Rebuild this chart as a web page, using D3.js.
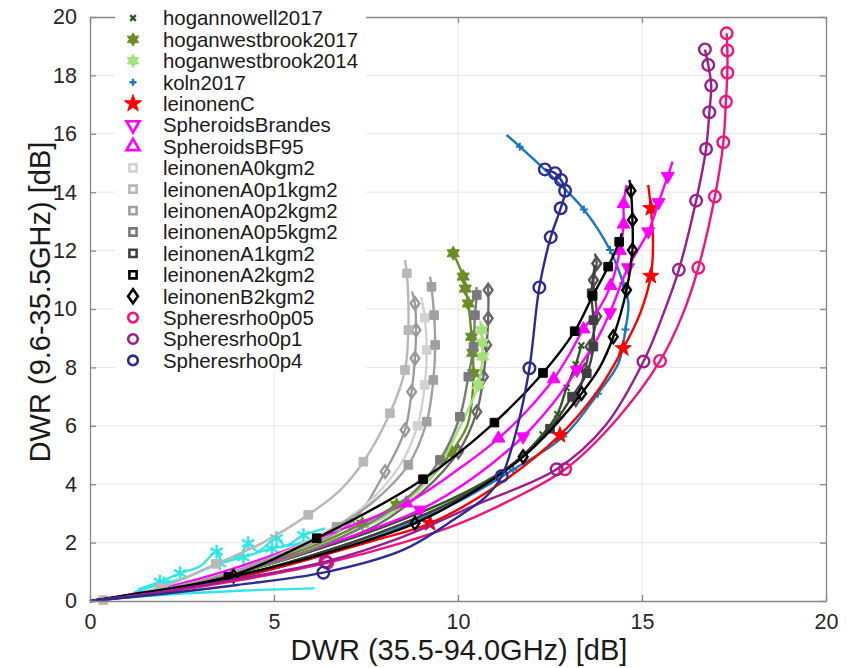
<!DOCTYPE html>
<html>
<head>
<meta charset="utf-8">
<script src="https://cdn.jsdelivr.net/npm/d3@7"></script>
<style>
  body { margin: 0; background: #fff; }
  text { font-family: "Liberation Sans", Arial, Helvetica, sans-serif; }
</style>
</head>
<body>
<svg id="chart" width="851" height="668"></svg>
<script>
// Each point: [DWR 35.5-94.0 GHz (dB), DWR 9.6-35.5 GHz (dB), marker drawn (1) or not (0)]
const hogannowell2017 = [[0,0,0],[2,0.35,0],[4,0.95,0],[6,1.7,0],[8,2.55,0],[10,3.6,0],[11.5,4.7,0],[12.3,5.7,1],[12.7,6.4,1],[12.95,7.3,1],[13.2,8.1,1],[13.35,8.75,1]];
const hoganwestbrook2017 = [[0,0,0],[2,0.4,0],[4,1.0,0],[6,1.85,0],[7.4,2.65,1],[8.33,3.29,1],[9.2,4.15,0],[9.83,5.11,1],[10.24,5.97,0],[10.37,6.77,0],[10.42,7.8,1],[10.4,8.5,1],[10.37,9.05,1],[10.28,10.19,1],[10.2,10.7,1],[10.14,11.11,1],[9.87,11.91,1]];
const hoganwestbrook2014 = [[0,0,0],[2,0.35,0],[4,0.95,0],[6,1.75,0],[7.3,2.45,0],[8.33,3.12,0],[9.42,4.49,0],[10.05,5.97,0],[10.4,6.9,0],[10.55,7.4,1],[10.67,8.37,1],[10.66,8.85,1],[10.64,9.28,1],[10.6,9.6,0]];
const koln2017 = [[0,0,0],[2,0.3,0],[4,0.8,0],[6,1.45,0],[8,2.3,0],[10,3.4,0],[11.5,4.5,1],[12.86,5.63,1],[13.8,7.1,1],[14.36,8.14,0],[14.55,9.3,1],[14.63,10.2,0],[14.49,10.88,1],[14.13,12.02,1],[13.42,13.41,1],[12.5,14.6,0],[11.68,15.56,1],[11.32,15.96,0]];
const leinonenC = [[0,0,0],[2,0.3,0],[4,0.8,0],[6,1.45,0],[7.8,2.1,0],[9.24,2.66,1],[11,3.9,0],[12.77,5.68,1],[13.8,7.2,0],[14.49,8.65,1],[14.95,9.85,0],[15.24,11.13,1],[15.3,12.3,0],[15.24,13.45,1],[15.17,14.25,0]];
const spheroidsBrandes = [[0,0,0],[2,0.4,0],[4,1.0,0],[6.5,1.95,0],[8.97,3.12,1],[10.5,4.3,0],[11.77,5.63,1],[12.6,6.8,0],[13.23,7.91,1],[13.75,8.9,0],[14.13,9.88,1],[14.62,11.42,1],[15.17,12.65,1],[15.45,13.65,1],[15.7,14.55,1],[15.83,15.05,0]];
const spheroidsBF95 = [[0,0,0],[2,0.45,0],[4,1.15,0],[6.5,2.3,0],[8.6,3.35,1],[10,4.5,0],[11.1,5.57,1],[11.9,6.55,0],[12.6,7.6,1],[13.05,8.5,0],[13.41,9.31,1],[13.85,10.05,0],[14.15,10.8,1],[14.4,12.0,1],[14.5,12.9,1],[14.5,13.6,1],[14.58,14.25,0]];
const leinonenA0 = [[0,0,0],[2,0.4,0],[4,1.05,0],[6,2.1,0],[7.4,3.2,0],[8.4,4.6,0],[8.9,6.0,1],[9.1,7.4,1],[9.15,8.6,1],[9.1,9.7,1],[9.0,10.4,0]];
const leinonenA0p1 = [[0,0,0],[0.36,0.03,1],[1.9,0.45,1],[3.42,1.27,1],[4.7,2.0,0],[5.93,2.95,1],[6.8,3.8,0],[7.43,4.77,1],[8.15,6.43,1],[8.56,7.91,1],[8.65,9.28,1],[8.65,10.3,0],[8.61,11.22,1],[8.56,11.68,0]];
const leinonenA0p2 = [[0,0,0],[2,0.4,0],[4,1.05,0],[6,2.05,0],[6.7,2.54,1],[7.7,3.4,0],[8.65,4.66,1],[9.15,6.14,1],[9.33,7.57,1],[9.38,8.77,1],[9.35,9.79,1],[9.28,10.76,1],[9.24,11.11,0]];
const leinonenA0p5 = [[0,0,0],[2,0.35,0],[4,0.95,0],[6,1.75,0],[7.5,2.6,0],[8.6,3.5,0],[9.51,4.83,1],[10.05,6.31,1],[10.28,7.68,1],[10.42,8.71,1],[10.46,9.79,1],[10.51,10.48,1],[10.5,10.75,0]];
const leinonenA1 = [[0,0,0],[2,0.33,0],[4,0.85,0],[6,1.55,0],[8,2.4,0],[10,3.5,0],[11.5,4.7,0],[12.5,5.9,1],[13.1,7.0,1],[13.5,7.8,1],[13.68,8.71,1],[13.68,9.62,1],[13.63,10.54,1],[13.72,11.5,0]];
const leinonenA2 = [[0,0,0],[1.5,0.3,0],[3.76,0.83,1],[6.16,2.15,1],[9.05,4.17,1],[10.99,6.11,1],[12.31,7.81,1],[13.17,9.24,1],[13.66,10.45,1],[14.08,11.45,1],[14.38,12.3,1],[14.45,12.59,0]];
const leinonenB2 = [[0,0,0],[2,0.35,0],[3.9,0.85,1],[6.3,1.6,0],[8.83,2.66,1],[10.5,3.8,0],[11.77,4.94,1],[12.7,6.1,0],[13.36,7.11,1],[13.85,8.0,0],[14.22,9.05,1],[14.58,10.65,1],[14.74,12.02,1],[14.74,13.05,1],[14.7,14.05,1],[14.66,14.42,0]];
const spheresRho0p05 = [[0,0,0],[2,0.3,0],[4,0.7,0],[6.45,1.31,1],[8.5,2.0,0],[10.05,2.66,0],[11.5,3.5,0],[12.91,4.51,1],[14.3,6.2,0],[15.49,8.22,1],[16.1,9.8,0],[16.53,11.41,1],[16.98,13.85,1],[17.21,15.71,1],[17.28,17.1,1],[17.32,18.09,1],[17.32,18.85,1],[17.3,19.44,1]];
const spheresRho0p1 = [[0,0,0],[2,0.33,0],[4,0.75,0],[6.4,1.35,1],[8.5,2.2,0],[10.5,3.3,0],[12.68,4.51,1],[14.0,6.0,0],[15.04,8.2,1],[15.6,9.9,0],[16.0,11.34,1],[16.47,13.71,1],[16.74,15.48,1],[16.83,16.74,1],[16.88,17.65,1],[16.8,18.36,1],[16.71,18.89,1]];
const spheresRho0p4 = [[0,0,0],[2,0.25,0],[4,0.55,0],[6.34,0.97,1],[8.51,1.75,0],[9.9,2.8,0],[10.78,3.6,0],[11.19,4.28,1],[11.6,5.9,0],[11.94,7.97,1],[12.21,10.74,1],[12.52,12.46,1],[12.79,13.45,1],[12.91,14.05,1],[12.8,14.42,1],[12.64,14.65,1],[12.36,14.78,1]];

// Additional runs drawn without a legend entry
const cyanRunA = [[0.8,0.1,0],[2.5,0.25,0],[4.2,0.36,0],[6.1,0.43,0]];
const cyanRunB = [[1.3,0.4,0],[1.9,0.66,1],[2.45,0.95,1],[3.0,1.2,0],[3.44,1.69,1],[3.6,1.35,0],[4.1,1.6,0],[4.3,1.98,1],[4.55,1.7,0],[5.07,2.15,1],[5.3,1.9,0],[5.8,2.25,1],[6.39,2.49,0]];
const cyanRunC = [[1.2,0.3,0],[2.0,0.6,1],[2.6,0.8,0],[3.53,1.29,1],[4.17,1.5,1],[4.94,1.8,1],[5.6,1.95,0],[6.0,2.1,0]];
const grayDiamondA = [[0,0,0],[2,0.4,0],[4,1.0,0],[5.5,1.7,0],[7.07,2.66,1],[8.02,4.43,1],[8.56,5.86,1],[8.74,7.17,1],[8.83,8.31,1],[8.86,9.28,1],[8.83,10.19,1],[8.75,10.6,0]];
const grayDiamondB = [[0,0,0],[2,0.35,0],[4,0.95,0],[6,1.7,0],[7.8,2.6,0],[9.0,3.7,0],[10.01,5.11,1],[10.51,6.48,1],[10.69,7.68,1],[10.78,8.77,1],[10.82,9.68,1],[10.82,10.65,1],[10.8,10.85,0]];
const grayDiamondC = [[0,0,0],[2,0.33,0],[4,0.85,0],[6,1.55,0],[8,2.4,0],[10,3.5,0],[11.6,4.8,0],[12.6,6.0,0],[13.2,6.9,1],[13.45,7.91,1],[13.59,8.71,1],[13.77,9.74,1],[13.68,10.99,1],[13.77,11.56,1],[13.72,11.9,0]];

const seriesNames = ["hogannowell2017","hoganwestbrook2017","hoganwestbrook2014","koln2017","leinonenC","SpheroidsBrandes","SpheroidsBF95","leinonenA0kgm2","leinonenA0p1kgm2","leinonenA0p2kgm2","leinonenA0p5kgm2","leinonenA1kgm2","leinonenA2kgm2","leinonenB2kgm2","Spheresrho0p05","Spheresrho0p1","Spheresrho0p4"];
const seriesData = [hogannowell2017, hoganwestbrook2017, hoganwestbrook2014, koln2017, leinonenC, spheroidsBrandes, spheroidsBF95, leinonenA0, leinonenA0p1, leinonenA0p2, leinonenA0p5, leinonenA1, leinonenA2, leinonenB2, spheresRho0p05, spheresRho0p1, spheresRho0p4];
const seriesColors = ["#2d5a1c","#6b8e23","#a3e27b","#1877bd","#ff0000","#ff00ff","#ff00ff","#d2d2d2","#b8b8b8","#a0a0a0","#7a7a7a","#404040","#000000","#000000","#f0147c","#9a1e8e","#2c2c8e"];
const seriesMarkers = ["times","hexagram","hexagram","plus","star","triDown","triUp","square","square","square","square","square","square","diamond","circle","circle","circle"];

const extraData = [cyanRunA, cyanRunB, cyanRunC, grayDiamondA, grayDiamondB, grayDiamondC];
const extraColors = ["#30e6e6","#30e6e6","#30e6e6","#9a9a9a","#686868","#505050"];
const extraMarkers = ["none","asterisk","asterisk","diamond","diamond","diamond"];

const xTicks = [0, 5, 10, 15, 20];
const yTicks = [0, 2, 4, 6, 8, 10, 12, 14, 16, 18, 20];
const xTitle = "DWR (35.5-94.0GHz) [dB]";
const yTitle = "DWR (9.6-35.5GHz) [dB]";

const svg = d3.select("#chart");
const x = d3.scaleLinear().domain([0, 20]).range([90, 826]);
const y = d3.scaleLinear().domain([0, 20]).range([601, 17]);

// grid
const grid = svg.append("g").attr("stroke", "#e6e6e6").attr("stroke-width", 1);
grid.selectAll("line.gx").data(xTicks.slice(1, -1)).join("line")
  .attr("x1", d => x(d)).attr("x2", d => x(d)).attr("y1", y(0)).attr("y2", y(20));
grid.selectAll("line.gy").data(yTicks.slice(1, -1)).join("line")
  .attr("y1", d => y(d)).attr("y2", d => y(d)).attr("x1", x(0)).attr("x2", x(20));

// marker geometry
function markerPath(t, r) {
  const P = pts => "M" + pts.map(p => p[0].toFixed(2) + "," + p[1].toFixed(2)).join("L") + "Z";
  const poly = (n, ro, ri, a0) => d3.range(n * 2).map(i => {
    const a = a0 + i * Math.PI / n, rr = i % 2 ? ri : ro;
    return [rr * Math.cos(a), rr * Math.sin(a)];
  });
  switch (t) {
    case "circle": return `M${r},0A${r},${r},0,1,1,${-r},0A${r},${r},0,1,1,${r},0Z`;
    case "square": return P([[-r,-r],[r,-r],[r,r],[-r,r]]);
    case "diamond": return P([[0,-r],[r*0.7,0],[0,r],[-r*0.7,0]]);
    case "triUp": return P([[0,-r],[r*0.866,r*0.5],[-r*0.866,r*0.5]]);
    case "triDown": return P([[0,r],[r*0.866,-r*0.5],[-r*0.866,-r*0.5]]);
    case "star": return P(poly(5, r, r * 0.4, -Math.PI / 2));
    case "hexagram": return P(poly(6, r, r / Math.sqrt(3), -Math.PI / 2));
    case "plus": return `M${-r},0H${r}M0,${-r}V${r}`;
    case "times": return `M${-r},${-r}L${r},${r}M${-r},${r}L${r},${-r}`;
    case "asterisk": {
      const k = r * 0.866, h = r * 0.5;
      return `M0,${-r}V${r}M${-k},${-h}L${k},${h}M${-k},${h}L${k},${-h}`;
    }
  }
  return "";
}
const plotStyle = {
  circle:   { r: 5.8, fill: false, sw: 2.4 },
  square:   { r: 4.3, fill: true,  sw: 1 },
  diamond:  { r: 6.3, fill: false, sw: 2.4 },
  triUp:    { r: 7.5, fill: true,  sw: 1 },
  triDown:  { r: 7.5, fill: true,  sw: 1 },
  star:     { r: 8.5, fill: true,  sw: 1 },
  hexagram: { r: 7,   fill: true,  sw: 1 },
  plus:     { r: 4,   fill: false, sw: 2 },
  times:    { r: 3,   fill: false, sw: 2 },
  asterisk: { r: 7,   fill: false, sw: 2.4 }
};

const line = d3.line().x(d => x(d[0])).y(d => y(d[1])).curve(d3.curveCatmullRom.alpha(0.5));
const plot = svg.append("g");

function drawSeries(data, color, marker, lw) {
  const g = plot.append("g");
  g.append("path").attr("d", line(data)).attr("fill", "none")
    .attr("stroke", color).attr("stroke-width", lw).attr("stroke-linejoin", "round");
  if (marker === "none") return;
  const s = plotStyle[marker];
  g.selectAll("path.m").data(data.filter(d => d[2])).join("path")
    .attr("class", "m")
    .attr("transform", d => `translate(${x(d[0])},${y(d[1])})`)
    .attr("d", markerPath(marker, s.r))
    .attr("fill", s.fill ? color : "none")
    .attr("stroke", color).attr("stroke-width", s.sw).attr("stroke-linejoin", "miter");
}

extraData.forEach((d, i) => drawSeries(d, extraColors[i], extraMarkers[i], 2.3));
seriesData.forEach((d, i) => drawSeries(d, seriesColors[i], seriesMarkers[i], 2.4));

// axes with inward ticks on all four sides
const axisColor = "#888";
const fmt = d3.format("d");
function styleAxis(g) {
  g.select(".domain").attr("stroke", axisColor).attr("stroke-width", 1.3);
  g.selectAll(".tick line").attr("stroke", axisColor).attr("stroke-width", 1.3);
  g.selectAll(".tick text").attr("fill", "#262626").attr("font-size", 21.5)
    .attr("font-family", '"Liberation Sans", Arial, Helvetica, sans-serif');
}
svg.append("g").attr("transform", `translate(0,${y(0)})`)
  .call(d3.axisBottom(x).tickValues(xTicks).tickFormat(fmt).tickSize(-6).tickSizeOuter(0).tickPadding(13))
  .call(styleAxis);
svg.append("g").attr("transform", `translate(${x(0)},0)`)
  .call(d3.axisLeft(y).tickValues(yTicks).tickFormat(fmt).tickSize(-6).tickSizeOuter(0).tickPadding(13))
  .call(styleAxis);
svg.append("g").attr("transform", `translate(0,${y(20)})`)
  .call(d3.axisTop(x).tickValues(xTicks).tickFormat("").tickSize(-6).tickSizeOuter(0))
  .call(styleAxis);
svg.append("g").attr("transform", `translate(${x(20)},0)`)
  .call(d3.axisRight(y).tickValues(yTicks).tickFormat("").tickSize(-6).tickSizeOuter(0))
  .call(styleAxis);

// axis titles
svg.append("text").attr("x", 459).attr("y", 660).attr("text-anchor", "middle")
  .attr("font-size", 29).attr("fill", "#1a1a1a").text(xTitle);
svg.append("text").attr("transform", "translate(50,302) rotate(-90)").attr("text-anchor", "middle")
  .attr("font-size", 29).attr("fill", "#1a1a1a").text(yTitle);

// legend
const legendStyle = {
  circle:   { r: 4.8, fill: "#fff", sw: 2.6 },
  square:   { r: 3.6, fill: "#fff", sw: 2.6 },
  diamond:  { r: 7,   fill: "#fff", sw: 2.6 },
  triUp:    { r: 7.5, fill: "#fff", sw: 2.6 },
  triDown:  { r: 7.5, fill: "#fff", sw: 2.6 },
  star:     { r: 9,   fill: null,   sw: 1 },
  hexagram: { r: 6.5, fill: null,   sw: 1 },
  plus:     { r: 3.5, fill: "none", sw: 2.4 },
  times:    { r: 2.8, fill: "none", sw: 2.4 }
};
const lg = svg.append("g");
lg.append("rect").attr("x", 115).attr("y", 3).attr("width", 251).attr("height", 369).attr("fill", "#fff");
const rowY = i => 18 + i * 21.4;
seriesNames.forEach((name, i) => {
  const m = seriesMarkers[i], s = legendStyle[m], c = seriesColors[i];
  lg.append("path").attr("transform", `translate(133,${rowY(i)})`)
    .attr("d", markerPath(m, s.r))
    .attr("fill", s.fill === null ? c : s.fill)
    .attr("stroke", c).attr("stroke-width", s.sw);
  lg.append("text").attr("x", 163).attr("y", rowY(i)).attr("dy", "0.36em")
    .attr("font-size", 20.4).attr("fill", "#1a1a1a").text(name);
});
</script>
</body>
</html>
